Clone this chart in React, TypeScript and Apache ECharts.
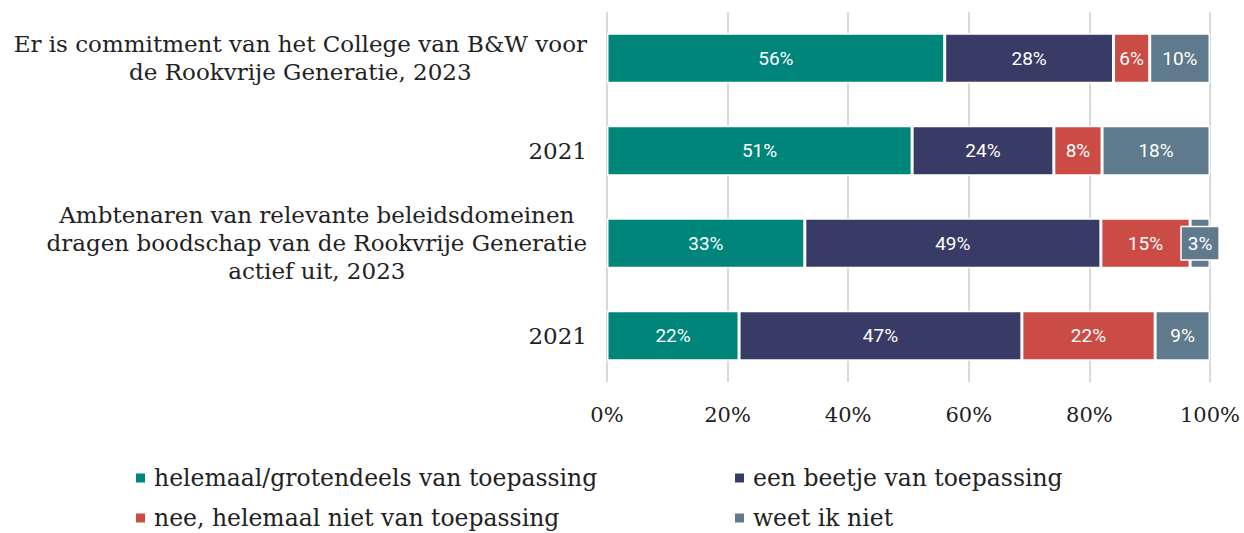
import React, { useEffect, useRef } from "react";
import * as echarts from "echarts";

const categories: string[][] = [
  ["Er is commitment van het College van B&W voor", "de Rookvrije Generatie, 2023"],
  ["2021"],
  ["Ambtenaren van relevante beleidsdomeinen", "dragen boodschap van de Rookvrije Generatie", "actief uit, 2023"],
  ["2021"],
];
const seriesNames = [
  "helemaal/grotendeels van toepassing",
  "een beetje van toepassing",
  "nee, helemaal niet van toepassing",
  "weet ik niet",
];
const helemaal = [56, 50.6, 32.8, 21.9];
const beetje = [28, 23.5, 49.1, 46.9];
const nee = [6, 8.0, 14.8, 22.1];
const weetNiet = [10, 17.9, 3.3, 9.1];
const colors = ["#00857B", "#393B67", "#CB4C45", "#5F7A8D"];
const xTicks = [0, 20, 40, 60, 80, 100];

const SERIF = "'DejaVu Serif', 'Liberation Serif', serif";
const SANS = "Roboto, 'Noto Sans', sans-serif";

const legendPos = [
  { left: 134, top: 466 },
  { left: 733, top: 466 },
  { left: 134, top: 506 },
  { left: 733, top: 506 },
];

export default function App() {
  const ref = useRef<HTMLDivElement>(null);
  useEffect(() => {
    if (!ref.current) return;
    const chart = echarts.init(ref.current, undefined, { renderer: "svg" });
    const values = [helemaal, beetje, nee, weetNiet];
    const catKeys = categories.map((c) => c.join("\n"));
    const series = values.map((vals, si) => ({
      name: seriesNames[si],
      type: "bar",
      stack: "total",
      barWidth: 50,
      itemStyle: { color: colors[si], borderColor: "#ffffff", borderWidth: 1.5 },
      label: {
        show: true,
        position: "inside",
        color: "#ffffff",
        fontFamily: SANS,
        fontSize: 19,
        formatter: (p: any) => Math.round(p.value) + "%",
      },
      data: vals.map((v) =>
        v < 5
          ? {
              value: v,
              label: {
                backgroundColor: colors[si],
                borderColor: "#ffffff",
                borderWidth: 1.5,
                padding: [7, 6, 6, 6],
              },
            }
          : v
      ),
    }));
    chart.setOption({
      animation: false,
      grid: { left: 607, right: 34, top: 12, bottom: 151, containLabel: false },
      xAxis: {
        type: "value",
        min: 0,
        max: 100,
        interval: 20,
        axisLine: { show: false },
        axisTick: { show: false },
        splitLine: { show: true, lineStyle: { color: "#d9d9d9", width: 2 } },
        axisLabel: {
          margin: 22,
          fontFamily: SERIF,
          fontSize: 21,
          color: "#222222",
          formatter: (v: number) => (xTicks.includes(v) ? v + "%" : ""),
        },
      },
      yAxis: {
        type: "category",
        inverse: true,
        data: catKeys,
        axisLine: { show: false },
        axisTick: { show: false },
        axisLabel: {
          margin: 20,
          interval: 0,
          formatter: (v: string) =>
            v
              .split("\n")
              .map((l) => "{c|" + l + "}")
              .join("\n"),
          rich: {
            c: {
              align: "center",
              fontFamily: SERIF,
              fontSize: 23,
              lineHeight: 28,
              color: "#222222",
            },
          },
        },
      },
      legend: seriesNames.map((name, i) => ({
        data: [name],
        orient: "horizontal",
        left: legendPos[i].left,
        top: legendPos[i].top,
        padding: 0,
        itemWidth: 11,
        itemHeight: 11,
        itemGap: 8,
        icon: "rect",
        textStyle: { fontFamily: SERIF, fontSize: 23.5, color: "#222222", padding: [0, 0, 0, 3] },
      })),
      series,
    });
    return () => chart.dispose();
  }, []);
  return (
    <div
      ref={ref}
      style={{ position: "absolute", left: 0, top: 0, width: 1244, height: 533 }}
    />
  );
}
